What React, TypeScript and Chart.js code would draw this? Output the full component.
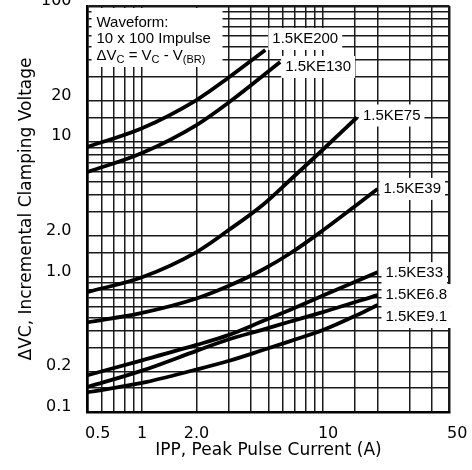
import { useEffect, useRef } from 'react';
import { Chart, registerables } from 'chart.js';

Chart.register(...registerables);

// ---- data ----
const seriesNames = ['1.5KE200', '1.5KE130', '1.5KE75', '1.5KE39', '1.5KE33', '1.5KE6.8', '1.5KE9.1'];

const ke200Current = [0.5, 1, 2, 3, 4.8];
const ke200Volts = [9.1, 12.5, 20.2, 29.5, 47.3];
const ke130Current = [0.5, 1, 2, 3, 5.8];
const ke130Volts = [5.93, 8.2, 13.2, 19.3, 38.6];
const ke75Current = [0.5, 1, 2, 3, 4.66, 6.6, 10, 15.4];
const ke75Volts = [0.77, 0.99, 1.52, 2.2, 3.4, 5.2, 8.7, 15];
const ke39Current = [0.5, 1, 2, 3, 4.66, 6.6, 10, 15.4, 20];
const ke39Volts = [0.46, 0.54, 0.69, 0.853, 1.13, 1.49, 2.2, 3.4, 4.45];
const ke33Current = [0.5, 1, 2, 3, 4.66, 6.6, 10, 20];
const ke33Volts = [0.187, 0.241, 0.313, 0.37, 0.47, 0.57, 0.725, 1.08];
const ke68Current = [0.5, 1, 2, 3, 4.66, 6.6, 10, 20];
const ke68Volts = [0.153, 0.202, 0.283, 0.343, 0.406, 0.466, 0.547, 0.731];
const ke91Current = [0.5, 1, 2, 3, 4.66, 6.6, 10, 15.4, 20];
const ke91Volts = [0.14, 0.164, 0.206, 0.238, 0.287, 0.334, 0.403, 0.52, 0.617];

const seriesCurrent = [ke200Current, ke130Current, ke75Current, ke39Current, ke33Current, ke68Current, ke91Current];
const seriesVolts = [ke200Volts, ke130Volts, ke75Volts, ke39Volts, ke33Volts, ke68Volts, ke91Volts];

const xGridValues = [0.5, 0.6, 0.7, 0.8, 0.9, 1, 2, 3, 4, 5, 6, 7, 8, 9, 10, 15, 20, 30, 40, 50];
const xLabelValues = [0.5, 1, 2, 10, 50];
const xLabelText = ['0.5', '1', '2.0', '10', '50'];

const yGridValues = [0.1, 0.15, 0.2, 0.3, 0.4, 0.5, 0.6, 0.7, 0.8, 0.9, 1, 1.5, 2, 3, 4, 5, 6, 7, 8, 9, 10, 15, 20, 30, 40, 50, 60, 70, 80, 90, 100];
const yLabelValues = [0.1, 0.2, 1, 2, 10, 20, 100];
const yLabelText = ['0.1', '0.2', '1.0', '2.0', '10', '20', '100'];

const xTitle = 'IPP, Peak Pulse Current (A)';
const yTitle = 'ΔVC, Incremental Clamping Voltage';
const noteLines = ['Waveform:', '10 x 100 Impulse'];

// ---- style ----
const X_MIN = 0.5, X_MAX = 50, Y_MIN = 0.1, Y_MAX = 100;
const xLabelPad = [4, 0, 0, 2, 3]; // leading spaces to nudge labels like the original
const labelOffsets = [[7, -11], [5, 5], [6, -2], [6, 0], [8, 1], [8, 0], [8, 12]];
const TICK_FONT = { family: '"DejaVu Sans", sans-serif', size: 16 };
const TITLE_FONT = { family: '"DejaVu Sans", sans-serif', size: 17 };
const NOTE_FAMILY = '"Liberation Sans", Arial, sans-serif';

const annotate = {
  id: 'annotate',
  beforeDatasetsDraw(chart: any) {
    const ctx = chart.ctx as CanvasRenderingContext2D;
    const { left, top } = chart.chartArea;
    ctx.save();
    // waveform note box
    ctx.fillStyle = '#fff';
    ctx.fillRect(left + 4, top + 2, 131, 59);
    ctx.fillStyle = '#000';
    ctx.textBaseline = 'middle';
    ctx.textAlign = 'left';
    ctx.font = `15px ${NOTE_FAMILY}`;
    const tx = left + 9;
    ctx.fillText(noteLines[0], tx, top + 17);
    ctx.fillText(noteLines[1], tx, top + 33);
    // ΔVC = VC - V(BR)
    const y3 = top + 50;
    const parts: [string, boolean][] = [['ΔV', false], ['C', true], [' = V', false], ['C', true], [' - V', false], ['(BR)', true]];
    let cx = tx;
    for (const [t, sub] of parts) {
      ctx.font = sub ? `11px ${NOTE_FAMILY}` : `15px ${NOTE_FAMILY}`;
      ctx.fillText(t, cx, sub ? y3 + 4 : y3);
      cx += ctx.measureText(t).width;
    }
    // curve labels
    ctx.font = `15px ${NOTE_FAMILY}`;
    chart.data.datasets.forEach((ds: any, i: number) => {
      const meta = chart.getDatasetMeta(i);
      const last = meta.data[meta.data.length - 1];
      const lx = last.x + labelOffsets[i][0];
      const ly = last.y + labelOffsets[i][1];
      const w = ctx.measureText(ds.label).width;
      ctx.fillStyle = '#fff';
      ctx.fillRect(lx - 4, ly - 11, w + 8, 22);
      ctx.fillStyle = '#000';
      ctx.fillText(ds.label, lx, ly);
    });
    ctx.restore();
  },
};

export default function App() {
  const ref = useRef<HTMLCanvasElement>(null);
  useEffect(() => {
    const datasets = seriesNames.map((name, i) => ({
      label: name,
      data: seriesCurrent[i].map((x, j) => ({ x, y: seriesVolts[i][j] })),
      borderColor: '#000',
      borderWidth: 3.8,
      pointRadius: 0,
      fill: false,
      cubicInterpolationMode: 'monotone' as const,
    }));
    const chart = new Chart(ref.current!, {
      type: 'line',
      data: { datasets },
      plugins: [annotate],
      options: {
        animation: false,
        responsive: false,
        layout: { padding: { left: 0, right: 22.5, top: 6, bottom: 0 } },
        plugins: { legend: { display: false }, tooltip: { enabled: false } },
        scales: {
          x: {
            type: 'logarithmic',
            min: X_MIN,
            max: X_MAX,
            afterBuildTicks: (scale: any) => {
              scale.ticks = xGridValues.map((v) => ({ value: v }));
            },
            afterFit: (scale: any) => {
              scale.height = 58;
              scale.paddingLeft = 0;
              scale.paddingRight = 0;
            },
            grid: {
              color: '#1a1a1a',
              lineWidth: (c: any) => (c.tick && c.tick.value === X_MAX ? 2.5 : 1.5),
              drawTicks: false,
            },
            border: { color: '#000', width: 2.5 },
            ticks: {
              autoSkip: false,
              maxRotation: 0,
              minRotation: 0,
              padding: 12,
              color: '#000',
              font: TICK_FONT,
              callback: (v: any) => {
                const i = xLabelValues.indexOf(Number(v));
                return i < 0 ? '' : ' '.repeat(xLabelPad[i]) + xLabelText[i];
              },
            },
            title: { display: true, text: xTitle, color: '#000', font: TITLE_FONT, padding: { top: 0, bottom: 9 } },
          },
          y: {
            type: 'logarithmic',
            min: Y_MIN,
            max: Y_MAX,
            afterBuildTicks: (scale: any) => {
              scale.ticks = yGridValues.map((v) => ({ value: v }));
            },
            afterFit: (scale: any) => {
              scale.width = 87.5;
              scale.paddingTop = 0;
              scale.paddingBottom = 0;
            },
            grid: {
              color: '#1a1a1a',
              lineWidth: (c: any) => (c.tick && c.tick.value === Y_MAX ? 2.5 : 1.5),
              drawTicks: false,
            },
            border: { color: '#000', width: 2.5 },
            ticks: {
              autoSkip: false,
              padding: 16,
              labelOffset: -5,
              color: '#000',
              font: TICK_FONT,
              callback: (v: any) => {
                const i = yLabelValues.indexOf(Number(v));
                return i < 0 ? '' : yLabelText[i];
              },
            },
            title: { display: true, text: yTitle, color: '#000', font: TITLE_FONT, padding: { top: 16, bottom: 0 } },
          },
        },
      },
    });
    return () => chart.destroy();
  }, []);
  return (
    <div style={{ position: 'absolute', left: 0, top: 0, width: 472, height: 470, background: '#fff' }}>
      <canvas ref={ref} width={472} height={470} style={{ display: 'block' }} />
    </div>
  );
}
